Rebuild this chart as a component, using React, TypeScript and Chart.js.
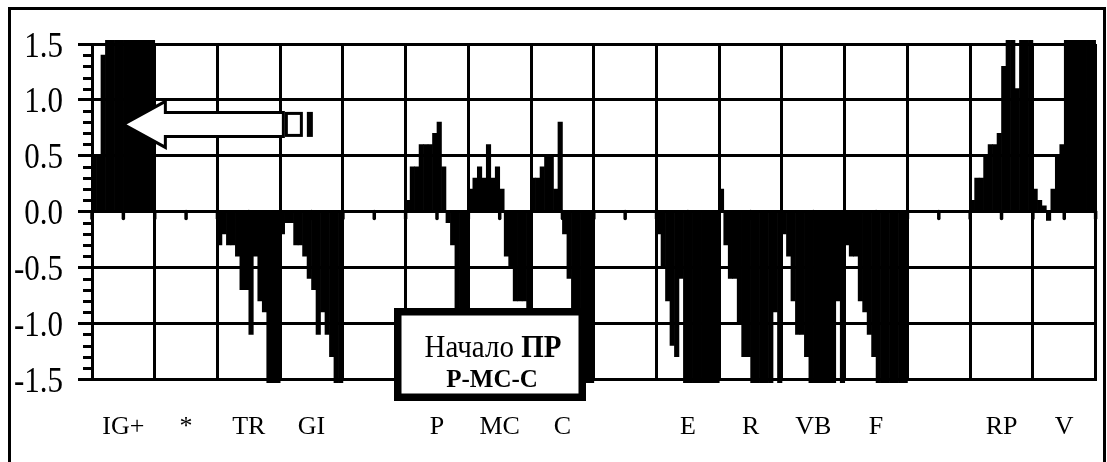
import React, { useEffect, useRef } from 'react';
import { Chart, registerables } from 'chart.js';

Chart.register(...registerables);

// ---- Data ----------------------------------------------------------------
const SEGMENT_LABELS = ['IG+', '*', 'TR', 'GI', '', 'P', 'MC', 'C', '', 'E', 'R', 'VB', 'F', '', 'RP', 'V'];
const BARS_PER_SEGMENT = 14;

const IG = [0.5, 0.5, 1.4, 1.6, 1.6, 1.6, 1.6, 1.6, 1.6, 1.6, 1.6, 1.6, 1.6, 1.6];
const STAR = [0, 0, 0, 0, 0, 0, 0, 0, 0, 0, 0, 0, 0, 0];
const TR = [-0.3, -0.2, -0.3, -0.3, -0.4, -0.7, -0.7, -1.1, -0.4, -0.8, -0.9, -1.6, -1.6, -1.6];
const GI = [-0.2, -0.1, -0.1, -0.3, -0.3, -0.4, -0.6, -0.7, -1.1, -0.9, -1.1, -1.3, -1.6, -1.6];
const GAP_A = [0, 0, 0, 0, 0, 0, 0, 0, 0, 0, 0, 0, 0, 0];
const P = [0.1, 0.4, 0.4, 0.6, 0.6, 0.6, 0.7, 0.8, 0.4, -0.1, -0.3, -1.2, -1.5, -1.6];
const MC = [0.2, 0.3, 0.4, 0.3, 0.6, 0.3, 0.4, 0.2, -0.4, -0.5, -0.8, -0.8, -0.8, -1.0];
const C = [0.3, 0.3, 0.4, 0.5, 0.5, 0.2, 0.8, -0.2, -0.6, -0.9, -1.6, -1.6, -1.6, -1.6];
const GAP_B = [0, 0, 0, 0, 0, 0, 0, 0, 0, 0, 0, 0, 0, 0];
const E = [-0.2, -0.5, -0.8, -1.2, -1.3, -0.6, -1.6, -1.6, -1.6, -1.6, -1.6, -1.6, -1.6, -1.6];
const R = [0.2, -0.3, -0.6, -0.6, -1.0, -1.3, -1.3, -1.6, -1.6, -1.6, -1.6, -1.6, -0.9, -1.6];
const VB = [-0.2, -0.4, -0.8, -1.1, -1.1, -1.3, -1.6, -1.6, -1.6, -1.6, -1.6, -1.6, -0.8, -1.6];
const F = [-0.3, -0.4, -0.4, -0.8, -0.9, -1.1, -1.3, -1.6, -1.6, -1.6, -1.6, -1.6, -1.6, -1.6];
const GAP_C = [0, 0, 0, 0, 0, 0, 0, 0, 0, 0, 0, 0, 0, 0];
const RP = [0.1, 0.3, 0.3, 0.5, 0.6, 0.6, 0.7, 1.3, 1.6, 1.6, 1.1, 1.6, 1.6, 1.6];
const V = [0.2, 0.1, 0.05, -0.08, 0.2, 0.5, 0.6, 1.6, 1.6, 1.6, 1.6, 1.6, 1.6, 1.6];

const SEGMENTS = [IG, STAR, TR, GI, GAP_A, P, MC, C, GAP_B, E, R, VB, F, GAP_C, RP, V];
const VALUES: number[] = SEGMENTS.flat();
const BAR_IDS = VALUES.map((_, i) => String(i));

const Y_MIN = -1.5;
const Y_MAX = 1.5;
const Y_STEP = 0.5;
const Y_MINOR_STEP = 0.1;

const ARROW_VALUE = 0.78;
const NOTE_LINE_1 = 'Начало ';
const NOTE_LINE_1_BOLD = 'ПР';
const NOTE_LINE_2 = 'P-MC-C';

const SERIF = '"Liberation Serif", "Times New Roman", serif';

const decorPlugin = {
  id: 'decor',
  afterDatasetsDraw(chart: any) {
    const { ctx, chartArea: a, scales } = chart;
    const x = scales.x;
    const y = scales.y;
    ctx.save();
    ctx.strokeStyle = '#000';
    // minor ticks on the value axis
    ctx.lineWidth = 3;
    const nMinor = Math.round((Y_MAX - Y_MIN) / Y_MINOR_STEP);
    for (let k = 0; k <= nMinor; k++) {
      const v = Y_MIN + k * Y_MINOR_STEP;
      if (k % Math.round(Y_STEP / Y_MINOR_STEP) === 0) continue;
      const py = Math.round(y.getPixelForValue(v)) + 0.5;
      ctx.beginPath();
      ctx.moveTo(a.left - 9, py);
      ctx.lineTo(a.left, py);
      ctx.stroke();
    }
    // tick marks along the zero line every half segment
    const y0 = y.getPixelForValue(0);
    const half = BARS_PER_SEGMENT / 2;
    ctx.lineWidth = 3.5;
    ctx.lineCap = 'round';
    for (let j = 0; j <= VALUES.length / half; j++) {
      const px = x.getPixelForValue(j * half - 0.5);
      ctx.beginPath();
      ctx.moveTo(px, y0);
      ctx.lineTo(px, y0 + 7);
      ctx.stroke();
    }
    // value-axis labels (tall serif digits)
    ctx.fillStyle = '#000';
    ctx.font = `31px ${SERIF}`;
    ctx.textAlign = 'right';
    ctx.textBaseline = 'middle';
    for (const t of y.ticks) {
      const py = y.getPixelForValue(t.value);
      ctx.save();
      ctx.translate(a.left - 29, py + 3);
      ctx.scale(1, 1.17);
      ctx.fillText(Number(t.value).toFixed(1), 0, 0);
      ctx.restore();
    }
    ctx.restore();
  },
  afterDraw(chart: any) {
    const { ctx, chartArea: a, scales } = chart;
    const x2 = scales.x2;
    const y = scales.y;
    ctx.save();
    // ---- arrow
    const tx = x2.getPixelForValue(0);
    const ty = y.getPixelForValue(ARROW_VALUE);
    ctx.beginPath();
    ctx.moveTo(tx, ty);
    ctx.lineTo(tx + 42, ty - 23);
    ctx.lineTo(tx + 42, ty - 12);
    ctx.lineTo(tx + 160, ty - 12);
    ctx.lineTo(tx + 160, ty + 12);
    ctx.lineTo(tx + 42, ty + 12);
    ctx.lineTo(tx + 42, ty + 23);
    ctx.closePath();
    ctx.fillStyle = '#fff';
    ctx.fill();
    ctx.lineWidth = 3;
    ctx.strokeStyle = '#000';
    ctx.lineJoin = 'miter';
    ctx.stroke();
    // two empty glyph boxes after the arrow
    ctx.fillStyle = '#fff';
    ctx.fillRect(tx + 163, ty - 11, 15, 22);
    ctx.strokeRect(tx + 163, ty - 11, 15, 22);
    ctx.strokeRect(tx + 185, ty - 11, 3, 22);

    // ---- note box
    const bl = a.left + 305.75;
    const bt = a.top + 267.75;
    const bw = 184.5;
    const bh = 85.5;
    ctx.fillStyle = '#fff';
    ctx.fillRect(bl, bt, bw, bh);
    ctx.lineWidth = 7.5;
    ctx.strokeStyle = '#000';
    ctx.strokeRect(bl, bt, bw, bh);
    const cx = bl + bw / 2 + 3;
    ctx.fillStyle = '#000';
    ctx.textBaseline = 'alphabetic';
    ctx.textAlign = 'left';
    ctx.font = `29px ${SERIF}`;
    const w1 = ctx.measureText(NOTE_LINE_1).width;
    ctx.font = `bold 29px ${SERIF}`;
    const w2 = ctx.measureText(NOTE_LINE_1_BOLD).width;
    const sx = cx - (w1 + w2) / 2;
    ctx.save();
    ctx.translate(sx, bt + 45);
    ctx.scale(1, 1.1);
    ctx.font = `29px ${SERIF}`;
    ctx.fillText(NOTE_LINE_1, 0, 0);
    ctx.font = `bold 29px ${SERIF}`;
    ctx.fillText(NOTE_LINE_1_BOLD, w1, 0);
    ctx.restore();
    ctx.font = `bold 25px ${SERIF}`;
    ctx.textAlign = 'center';
    ctx.fillText(NOTE_LINE_2, cx - 1, bt + 75);
    ctx.restore();
  },
};

export default function App() {
  const ref = useRef<HTMLCanvasElement>(null);
  useEffect(() => {
    const chart = new Chart(ref.current as HTMLCanvasElement, {
      type: 'bar',
      data: {
        labels: BAR_IDS,
        datasets: [
          {
            data: VALUES,
            backgroundColor: '#000',
            borderWidth: 0,
            barPercentage: 1,
            categoryPercentage: 1,
            clip: 4,
          } as any,
        ],
      },
      options: {
        responsive: false,
        animation: false,
        devicePixelRatio: 1,
        layout: { padding: { top: 44, right: 8, left: 0, bottom: 0 } },
        plugins: { legend: { display: false }, tooltip: { enabled: false } },
        scales: {
          x: {
            type: 'category',
            display: false,
            offset: true,
            grid: { offset: true, display: false },
          },
          x2: {
            type: 'category',
            labels: SEGMENT_LABELS,
            position: 'bottom',
            offset: true,
            grid: { offset: true, color: '#000', lineWidth: 3, drawTicks: false },
            border: { color: '#000', width: 3 },
            ticks: {
              autoSkip: false,
              maxRotation: 0,
              color: '#000',
              padding: 33,
              font: { family: SERIF, size: 26 },
            },
            afterFit: (s: any) => {
              s.height = 83;
            },
          } as any,
          y: {
            type: 'linear',
            position: 'left',
            min: Y_MIN,
            max: Y_MAX,
            ticks: {
              display: false,
              stepSize: Y_STEP,
            },
            grid: { color: '#000', lineWidth: 3, tickLength: 14, tickWidth: 3, tickColor: '#000' },
            border: { color: '#000', width: 3 },
            afterFit: (s: any) => {
              s.width = 92;
            },
          },
        },
      } as any,
      plugins: [decorPlugin],
    });
    return () => chart.destroy();
  }, []);

  return (
    <div
      style={{
        position: 'fixed',
        left: 0,
        top: 0,
        width: 1107,
        height: 462,
        overflow: 'hidden',
        background: '#fff',
      }}
    >
      <div
        style={{
          position: 'absolute',
          left: 8,
          top: 7,
          width: 1092,
          height: 470,
          borderLeft: '3px solid #000',
          borderTop: '3px solid #000',
          borderRight: '3px solid #000',
        }}
      />
      <canvas
        ref={ref}
        width={1107}
        height={462}
        style={{ position: 'absolute', left: 0, top: 0, display: 'block' }}
      />
    </div>
  );
}
